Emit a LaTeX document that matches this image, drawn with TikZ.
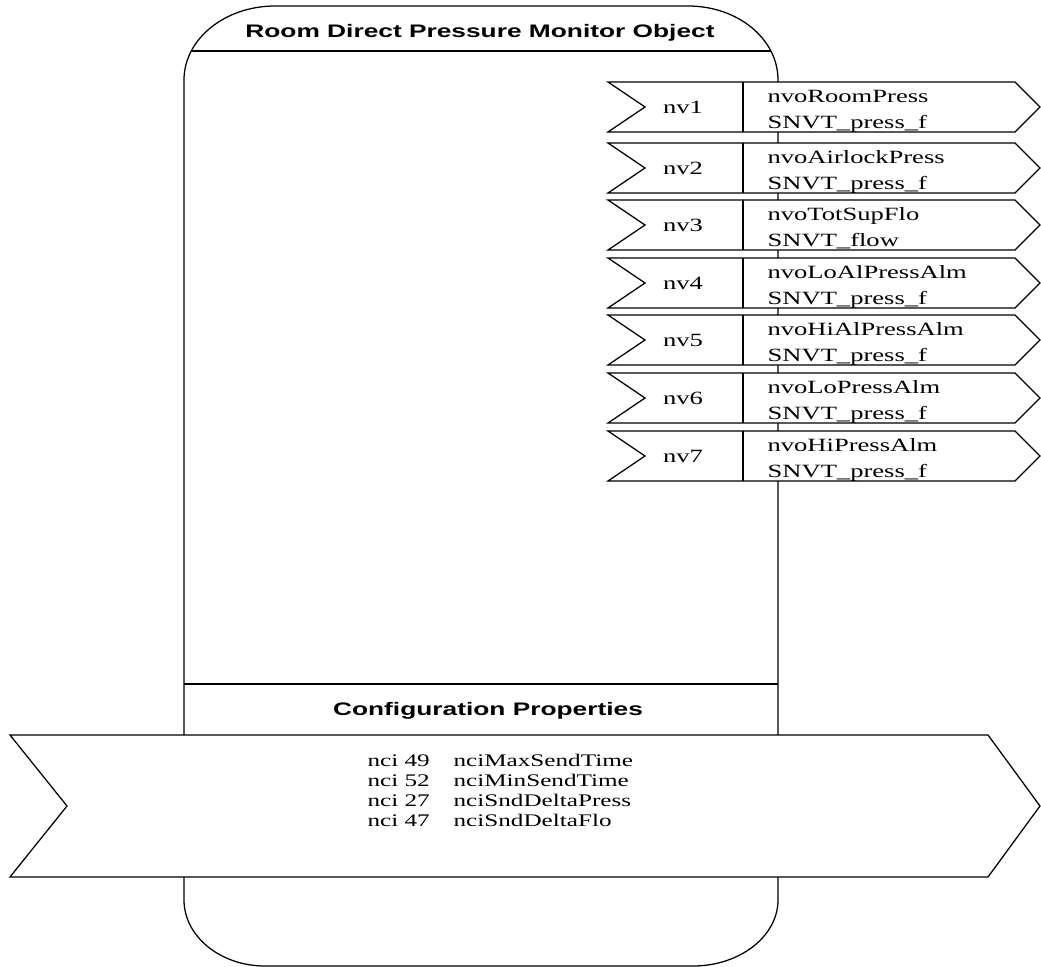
\documentclass[tikz,border=0pt]{standalone}
\usepackage{fontspec}
\setmainfont{Liberation Serif}[FakeStretch=1.42]
\newfontfamily\hdrfont{Liberation Sans Bold}[FakeStretch=1.45]
\usetikzlibrary{positioning,calc}

\begin{document}
\begin{tikzpicture}[x=0.025cm, y=-0.025cm, line width=0.9pt,
    hdr/.style={font=\hdrfont\fontsize{12.9}{15}\selectfont, anchor=base, inner sep=0pt},
    nvtxt/.style={font=\fontsize{13.3}{16}\selectfont, anchor=base west, inner sep=0pt},
    ncitxt/.style={font=\fontsize{12.6}{15}\selectfont, anchor=base west, inner sep=0pt}]
        \useasboundingbox (0,0) rectangle (1041,967);

        % Objeto
        \draw (184,80) .. controls (184,39) and (225,6) .. (275,6) -- (688,6)
            .. controls (738,6) and (778,39) .. (778,80) -- (778,900)
            .. controls (778,936) and (740,966) .. (693,966) -- (265,966)
            .. controls (220,966) and (184,936) .. (184,900) -- cycle;
        \draw (191,51) -- (771,51);
        \node[hdr] (title) at (480,37) {Room Direct Pressure Monitor Object};

        % Variaveis de rede
        \foreach \t/\nm/\ty [count=\i] in {82/nvoRoomPress/press\_f, 143/nvoAirlockPress/press\_f,
            200/nvoTotSupFlo/flow, 258/nvoLoAlPressAlm/press\_f, 315/nvoHiAlPressAlm/press\_f,
            373/nvoLoPressAlm/press\_f, 431/nvoHiPressAlm/press\_f} {
            \draw[fill=white] (608,\t) -- (1015,\t) -- (1040,\t+25) -- (1015,\t+50) -- (608,\t+50) -- (645,\t+25) -- cycle;
            \draw (743,\t) -- (743,\t+50);
            \node[nvtxt, anchor=base] (nv\i) at (683,\t+31) {nv\i};
            \node[nvtxt] (nvo\i) at (767,\t+20) {\nm};
            \node[nvtxt] (snvt\i) at (767,\t+46) {SNVT\_\ty};
        }

        % Propriedades de configuracao
        \draw (184,684) -- (778,684);
        \node[hdr] (cfgtitle) at (488,715) {Configuration Properties};
        \draw[fill=white] (10,735) -- (988,735) -- (1040,806) -- (988,877) -- (10,877) -- (67,806) -- cycle;
        \foreach \num/\nm [count=\i] in {49/nciMaxSendTime, 52/nciMinSendTime,
            27/nciSndDeltaPress, 47/nciSndDeltaFlo} {
            \node[ncitxt] (nci\i) at (367,745.7+20.3*\i) {nci \num};
            \node[ncitxt] (nciname\i) at (453,745.7+20.3*\i) {\nm};
        }
    \end{tikzpicture}
\end{document}
